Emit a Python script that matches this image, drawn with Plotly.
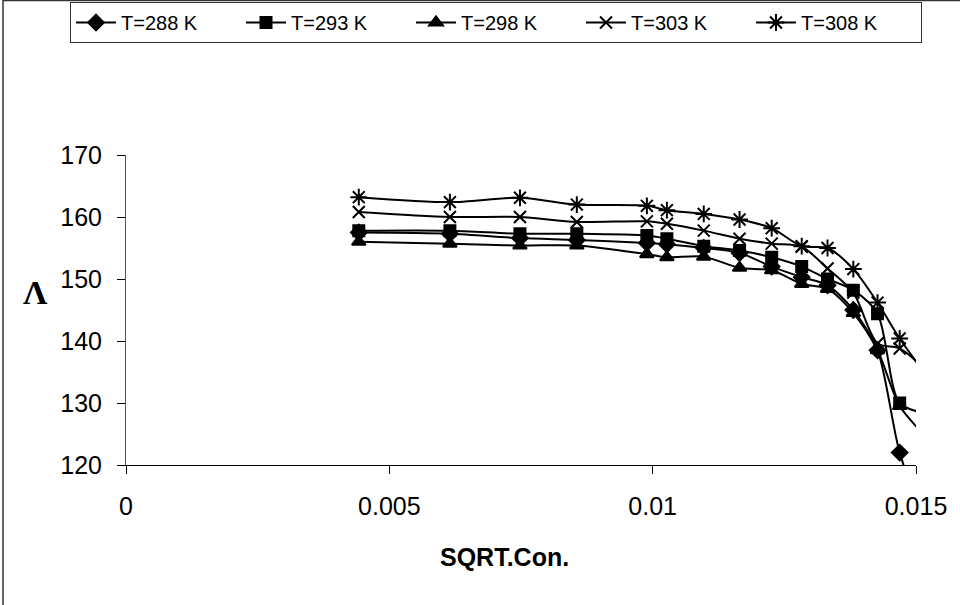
import plotly.graph_objects as go

# SQRT of concentration (x) and molar conductance (Λ) for each temperature
sqrt_con = [0.00442, 0.00615, 0.00748, 0.00856, 0.00989, 0.01027, 0.01097,
            0.01165, 0.01226, 0.01283, 0.01332, 0.01381, 0.01427, 0.01469, 0.0152]
lam_288 = [157.5, 157.3, 156.6, 156.3, 155.8, 155.6, 155.0,
           154.2, 152.0, 150.3, 149.0, 145.0, 138.5, 122.0, 110.0]
lam_293 = [157.8, 157.8, 157.3, 157.3, 157.0, 156.5, 155.3,
           154.6, 153.5, 152.0, 150.0, 148.2, 144.4, 130.0, 128.3]
lam_298 = [156.0, 155.7, 155.4, 155.4, 154.0, 153.5, 153.6,
           151.8, 151.4, 149.2, 148.4, 144.5, 138.5, 129.5, 124.5]
lam_303 = [160.8, 160.0, 160.0, 159.2, 159.3, 158.9, 157.8,
           156.5, 155.7, 155.2, 151.7, 147.8, 139.6, 138.8, 135.2]
lam_308 = [163.2, 162.4, 163.1, 162.0, 161.8, 161.1, 160.5,
           159.6, 158.2, 155.3, 155.0, 151.6, 146.2, 140.4, 134.4]

series_names = ["T=288 K", "T=293 K", "T=298 K", "T=303 K", "T=308 K"]
series_vals = [lam_288, lam_293, lam_298, lam_303, lam_308]
x_ticks = [0, 0.005, 0.01, 0.015]
x_tick_text = ["0", "0.005", "0.01", "0.015"]
y_ticks = [120, 130, 140, 150, 160, 170]

symbols = ["diamond", "square", "triangle-up", "x-thin-open", "asterisk-open"]
sizes = [12, 11, 12, 12, 14]

fig = go.Figure()
for name, vals, sym, sz in zip(series_names, series_vals, symbols, sizes):
    fig.add_trace(go.Scatter(
        x=sqrt_con, y=vals, name=name, mode="lines+markers",
        line=dict(color="black", width=2, shape="spline", smoothing=0.8),
        marker=dict(symbol=sym, size=sz, color="black",
                    line=dict(color="black", width=2)),
    ))

L, R, T, B = 126, 916, 155.0, 465.0
pw, ph = R - L, B - T

def px_x(p):
    return (p - L) / pw

def px_y(p):
    return (B - p) / ph

fig.update_layout(
    width=960, height=605,
    margin=dict(l=L, r=960 - R, t=T, b=605 - B, pad=0, autoexpand=False),
    paper_bgcolor="white", plot_bgcolor="white",
    font=dict(family="Liberation Sans, Arial, sans-serif", color="black"),
    showlegend=True,
    legend=dict(
        orientation="h", x=px_x(70), y=px_y(2), xanchor="left", yanchor="top",
        bordercolor="#333333", borderwidth=1, bgcolor="white",
        font=dict(size=20, family="Liberation Sans, Arial, sans-serif"),
        entrywidth=115, entrywidthmode="pixels",
        itemwidth=40, tracegroupgap=0,
    ),
    xaxis=dict(
        range=[0, 0.015], tickvals=x_ticks, ticktext=x_tick_text,
        showgrid=False, zeroline=False, showline=True, linecolor="black", linewidth=1,
        ticks="outside", ticklen=8, tickcolor="black",
        tickfont=dict(size=25), ticklabelstandoff=11,
    ),
    yaxis=dict(
        range=[120, 170], tickvals=y_ticks,
        showgrid=False, zeroline=False, showline=True, linecolor="#555555", linewidth=1,
        ticks="outside", ticklen=8, tickcolor="black",
        tickfont=dict(size=25), ticklabelstandoff=10,
    ),
    shapes=[dict(type="rect", xref="paper", yref="paper",
                 x0=px_x(3), x1=px_x(975), y0=px_y(620), y1=px_y(0.5),
                 line=dict(color="#333333", width=1.5), fillcolor="rgba(0,0,0,0)",
                 layer="below")],
    annotations=[
        dict(text="<b>SQRT.Con.</b>", xref="paper", yref="paper",
             x=px_x(504), y=px_y(557), xanchor="center", yanchor="middle",
             showarrow=False,
             font=dict(size=25, family="Liberation Sans, Arial, sans-serif")),
        dict(text="<b>Λ</b>", xref="paper", yref="paper",
             x=px_x(35), y=px_y(292), xanchor="center", yanchor="middle",
             showarrow=False,
             font=dict(size=34, family="Liberation Serif, Times New Roman, serif")),
    ],
)

fig.write_html("out.html")
